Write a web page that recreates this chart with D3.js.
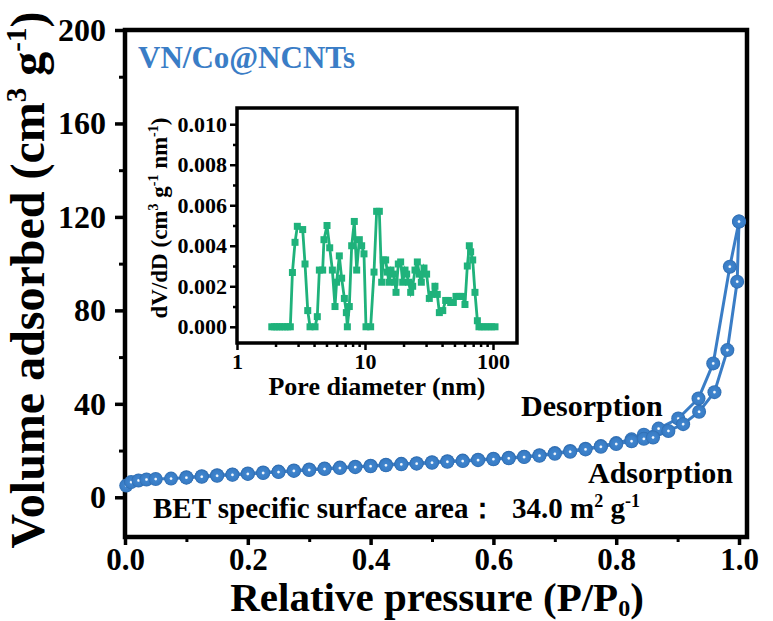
<!DOCTYPE html>
<html><head><meta charset="utf-8">
<script src="https://cdn.jsdelivr.net/npm/d3@7"></script>
<style>
body{margin:0;background:#fff}
svg{display:block}
text{font-family:"Liberation Serif","Times New Roman",serif;font-weight:bold}
</style>
</head><body>
<svg id="c" width="773" height="621"></svg>
<script>
// ---------- data ----------
const adsP = [0.002,0.010,0.022,0.035,0.050,0.075,0.100,0.125,0.150,0.175,0.200,0.225,0.250,0.275,0.300,0.325,0.350,0.375,0.400,0.425,0.450,0.475,0.500,0.525,0.550,0.575,0.600,0.625,0.650,0.675,0.700,0.725,0.750,0.775,0.800,0.825,0.845,0.860,0.885,0.909,0.935,0.960,0.981,0.997,1.000];
const adsV = [5.0,6.5,7.2,7.6,7.8,8.0,8.4,8.8,9.2,9.6,10.0,10.4,10.8,11.3,11.7,12.1,12.5,12.9,13.3,13.7,14.1,14.4,14.8,15.2,15.5,15.9,16.3,16.7,17.2,17.8,18.6,19.5,20.5,21.6,22.8,24.0,25.0,25.6,28.4,31.3,36.6,45.0,63.0,92.3,118.0];
const desP = [1.000,0.985,0.958,0.934,0.901,0.869,0.845,0.825,0.800,0.775,0.750,0.725,0.700,0.675,0.650,0.625,0.600,0.575,0.550,0.525,0.500,0.475,0.450,0.425,0.400,0.375,0.350,0.325,0.300,0.275,0.250,0.225,0.200,0.175,0.150,0.125,0.100];
const desV = [118.0,98.7,57.3,42.3,33.7,29.4,26.8,24.8,23.2,21.9,20.8,19.8,18.9,18.0,17.4,16.9,16.5,16.1,15.7,15.4,15.0,14.6,14.3,13.9,13.5,13.1,12.7,12.3,11.9,11.5,11.0,10.6,10.2,9.8,9.4,9.0,8.6];

const poreD = [1.87,1.96,2.05,2.15,2.26,2.37,2.49,2.61,2.71,2.84,2.96,3.26,3.40,3.57,3.72,4.07,4.24,4.40,4.67,4.78,5.05,5.30,5.56,5.83,6.00,6.30,6.57,6.90,7.15,7.28,7.54,7.87,8.25,8.61,9.03,9.42,9.82,10.18,11.07,11.76,12.33,12.94,13.50,13.91,14.50,14.95,15.40,15.97,16.65,17.15,17.47,18.21,18.99,19.70,20.54,21.16,21.94,22.75,23.58,24.58,25.64,26.58,27.55,28.9,30.3,31.8,33.2,35.2,36.7,38.1,40.5,42.7,44.8,46.7,49.0,51.4,54.6,57.9,60.4,63.0,65.3,66.9,69.4,72.3,75.5,77.7,81.6,86.6,91.9,97.6,103.7];
const poreV = [0,0,0,0,0,0,0,0,0.00268,0.00417,0.00496,0.0048,0.0031,0.0008,0,0,0.0005,0.0028,0.0028,0.0043,0.0050,0.0039,0.0028,0.0010,0.0022,0.0035,0.0024,0.0014,0.0007,0,0.0010,0.0040,0.0052,0.0028,0.0043,0.0040,0.0036,0,0,0.0027,0.0057,0.0057,0.0022,0.0033,0.0033,0.0027,0.0022,0.0028,0.0026,0.0022,0.0017,0.0031,0.0032,0.0022,0.0028,0.0026,0.0022,0.0017,0.0020,0.0028,0.0032,0.0026,0.0022,0.0029,0.0026,0.0014,0.0016,0.0020,0.0016,0.0007,0.0008,0.0013,0.0013,0.0012,0.0012,0.0015,0.0015,0.0015,0.0011,0.0030,0.0040,0.0037,0.0033,0.0017,0.0003,0,0,0,0,0,0];

const xTicks = [0,0.2,0.4,0.6,0.8,1.0];
const xMinor = [0.1,0.3,0.5,0.7,0.9];
const yTicks = [0,40,80,120,160,200];
const yMinor = [20,60,100,140,180];
const inYTicks = [0,0.002,0.004,0.006,0.008,0.010];
const inYMinor = [0.001,0.003,0.005,0.007,0.009];
const inXTicks = [1,10,100];
const inXMinor = [2,3,4,5,6,7,8,9,20,30,40,50,60,70,80,90];

const BLUE = "#3a7dc6";
const GREEN = "#1fb27b";

// ---------- main chart ----------
const svg = d3.select("#c");
const defs = svg.append("defs");
const g = defs.append("radialGradient").attr("id","ball").attr("cx","50%").attr("cy","50%").attr("r","50%");
g.append("stop").attr("offset","0%").attr("stop-color","#ffffff");
g.append("stop").attr("offset","12%").attr("stop-color","#eaf2fb");
g.append("stop").attr("offset","26%").attr("stop-color","#3f84cd");
g.append("stop").attr("offset","80%").attr("stop-color","#387cc5");
g.append("stop").attr("offset","100%").attr("stop-color","#2e6bae");

const L=125, R=747, T=30, B=537;
const x = d3.scaleLinear().domain([0,1.013]).range([L,R]);
const y = d3.scaleLinear().domain([-17,200]).range([B,T]);

const ax = svg.append("g").attr("transform",`translate(${L},0)`)
  .call(d3.axisLeft(y).tickValues(yTicks).tickSize(10).tickPadding(9).tickFormat(d3.format("d")));
ax.select(".domain").remove();
ax.selectAll("line").attr("stroke","#000").attr("stroke-width",3.5);
ax.selectAll("text").attr("font-size",32).attr("fill","#000");
const axm = svg.append("g").attr("transform",`translate(${L},0)`)
  .call(d3.axisLeft(y).tickValues(yMinor).tickSize(6).tickFormat(""));
axm.select(".domain").remove();
axm.selectAll("line").attr("stroke","#000").attr("stroke-width",3);

const bx = svg.append("g").attr("transform",`translate(0,${B})`)
  .call(d3.axisBottom(x).tickValues(xTicks).tickSize(8).tickPadding(3).tickFormat(d3.format(".1f")));
bx.select(".domain").remove();
bx.selectAll("line").attr("stroke","#000").attr("stroke-width",3.5);
bx.selectAll("text").attr("font-size",31).attr("fill","#000");
const bxm = svg.append("g").attr("transform",`translate(0,${B})`)
  .call(d3.axisBottom(x).tickValues(xMinor).tickSize(5).tickFormat(""));
bxm.select(".domain").remove();
bxm.selectAll("line").attr("stroke","#000").attr("stroke-width",3);

svg.append("rect").attr("x",L).attr("y",T).attr("width",R-L).attr("height",B-T)
  .attr("fill","none").attr("stroke","#000").attr("stroke-width",4.5);

const line = d3.line().x(d=>x(d[0])).y(d=>y(d[1]));
const ads = adsP.map((p,i)=>[p,adsV[i]]);
const des = desP.map((p,i)=>[p,desV[i]]);
svg.append("path").attr("d",line(des)).attr("fill","none").attr("stroke",BLUE).attr("stroke-width",3);
svg.append("path").attr("d",line(ads)).attr("fill","none").attr("stroke",BLUE).attr("stroke-width",3);
svg.append("g").selectAll("circle").data(des).join("circle")
  .attr("cx",d=>x(d[0])).attr("cy",d=>y(d[1])).attr("r",7).attr("fill","url(#ball)");
svg.append("g").selectAll("circle").data(ads).join("circle")
  .attr("cx",d=>x(d[0])).attr("cy",d=>y(d[1])).attr("r",7).attr("fill","url(#ball)");

// texts main
svg.append("text").attr("x",138).attr("y",68).attr("font-size",31).attr("fill",BLUE).text("VN/Co@NCNTs");
svg.append("text").attr("x",521).attr("y",416).attr("font-size",30).text("Desorption");
svg.append("text").attr("x",588).attr("y",483).attr("font-size",30).text("Adsorption");
svg.append("text").attr("x",153).attr("y",518).attr("font-size",29).text("BET specific surface area\uFF1A");
const bet = svg.append("text").attr("x",512).attr("y",518).attr("font-size",29);
bet.append("tspan").text("34.0 m");
bet.append("tspan").attr("font-size",18).attr("dy",-11).text("2");
bet.append("tspan").attr("dy",11).text(" g");
bet.append("tspan").attr("font-size",18).attr("dy",-11).text("-1");

const xt = svg.append("text").attr("x",437).attr("y",611).attr("text-anchor","middle").attr("font-size",41);
xt.append("tspan").text("Relative pressure (P/P");
xt.append("tspan").attr("font-size",24).attr("dy",5).text("0");
xt.append("tspan").attr("dy",-5).text(")");

const yt = svg.append("text").attr("transform","translate(44,280) rotate(-90)").attr("text-anchor","middle").attr("font-size",48);
yt.append("tspan").text("Volume adsorbed (cm");
yt.append("tspan").attr("font-size",29).attr("dy",-18).text("3");
yt.append("tspan").attr("dy",18).text(" g");
yt.append("tspan").attr("font-size",29).attr("dy",-18).text("-1");
yt.append("tspan").attr("dy",18).text(")");

// ---------- inset ----------
const iL=237, iR=517, iT=108, iB=343;
const ix = d3.scaleLog().domain([1,154]).range([iL,iR]);
const iy = d3.scaleLinear().domain([-0.0008,0.0108]).range([iB,iT]);

svg.append("rect").attr("x",iL).attr("y",iT).attr("width",iR-iL).attr("height",iB-iT).attr("fill","#fff");

const iax = svg.append("g").attr("transform",`translate(${iL},0)`)
  .call(d3.axisLeft(iy).tickValues(inYTicks).tickSize(7).tickPadding(3).tickFormat(d3.format(".3f")));
iax.select(".domain").remove();
iax.selectAll("line").attr("stroke","#000").attr("stroke-width",2.5);
iax.selectAll("text").attr("font-size",22).attr("fill","#000");
const iaxm = svg.append("g").attr("transform",`translate(${iL},0)`)
  .call(d3.axisLeft(iy).tickValues(inYMinor).tickSize(4).tickFormat(""));
iaxm.select(".domain").remove();
iaxm.selectAll("line").attr("stroke","#000").attr("stroke-width",2.5);

const ibx = svg.append("g").attr("transform",`translate(0,${iB})`)
  .call(d3.axisBottom(ix).tickValues(inXTicks).tickSize(7).tickPadding(3).tickFormat(d3.format("d")));
ibx.select(".domain").remove();
ibx.selectAll("line").attr("stroke","#000").attr("stroke-width",2.5);
ibx.selectAll("text").attr("font-size",22).attr("fill","#000");
const ibxm = svg.append("g").attr("transform",`translate(0,${iB})`)
  .call(d3.axisBottom(ix).tickValues(inXMinor).tickSize(4).tickFormat(""));
ibxm.select(".domain").remove();
ibxm.selectAll("line").attr("stroke","#000").attr("stroke-width",2.5);

svg.append("rect").attr("x",iL).attr("y",iT).attr("width",iR-iL).attr("height",iB-iT)
  .attr("fill","none").attr("stroke","#000").attr("stroke-width",3.5);

const pore = poreD.map((d,i)=>[d,poreV[i]]);
svg.append("path").attr("d",d3.line().x(d=>ix(d[0])).y(d=>iy(d[1]))(pore))
  .attr("fill","none").attr("stroke",GREEN).attr("stroke-width",2.8);
svg.append("g").selectAll("rect").data(pore).join("rect")
  .attr("x",d=>ix(d[0])-3.5).attr("y",d=>iy(d[1])-3.5).attr("width",7).attr("height",7).attr("fill",GREEN);

svg.append("text").attr("x",377).attr("y",395).attr("text-anchor","middle").attr("font-size",26).text("Pore diameter (nm)");
const iyt = svg.append("text").attr("transform","translate(167,218) rotate(-90)").attr("text-anchor","middle").attr("font-size",23);
iyt.append("tspan").text("dV/dD (cm");
iyt.append("tspan").attr("font-size",14).attr("dy",-9).text("3");
iyt.append("tspan").attr("dy",9).text(" g");
iyt.append("tspan").attr("font-size",14).attr("dy",-9).text("-1");
iyt.append("tspan").attr("dy",9).text(" nm");
iyt.append("tspan").attr("font-size",14).attr("dy",-9).text("-1");
iyt.append("tspan").attr("dy",9).text(")");
</script>
</body></html>
